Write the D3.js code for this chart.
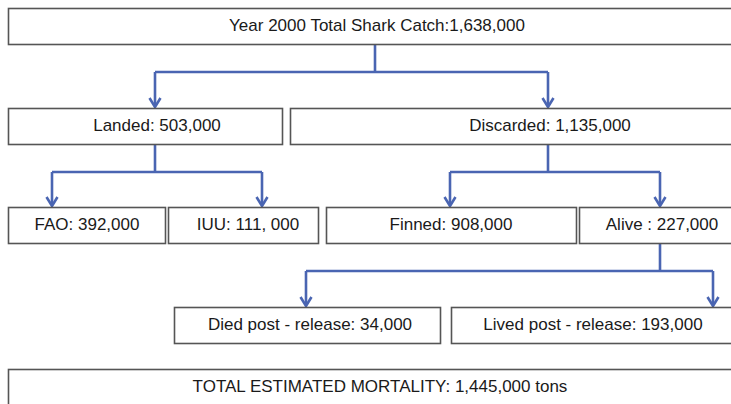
<!DOCTYPE html>
<html>
<head>
<meta charset="utf-8">
<script src="https://cdn.jsdelivr.net/npm/d3@7"></script>
<style>
  html, body { margin: 0; padding: 0; background: #fff; overflow: hidden; }
  #chartbox { width: 731px; height: 404px; }
</style>
</head>
<body>
<div id="chartbox"></div>
<script>
// flow of the year 2000 shark catch (tonnes)
var nodeLabels = [
  "Year 2000 Total Shark Catch:1,638,000",
  "Landed: 503,000",
  "Discarded: 1,135,000",
  "FAO: 392,000",
  "IUU: 111, 000",
  "Finned: 908,000",
  "Alive : 227,000",
  "Died post - release: 34,000",
  "Lived post - release: 193,000",
  "TOTAL ESTIMATED MORTALITY: 1,445,000 tons"
];
var nodeValues = [1638000, 503000, 1135000, 392000, 111000, 908000, 227000, 34000, 193000, 1445000];
var nodeParents = [-1, 0, 0, 1, 1, 2, 2, 6, 6, -1];

// layout of the boxes (kept apart from the data)
var nodeRow = [0, 1, 1, 2, 2, 2, 2, 3, 3, 4];
var boxLeft = [8, 8, 290, 8, 168, 326, 579, 174, 451, 8];
var boxRight = [745, 282, 745, 165, 318, 576, 745, 440, 745, 745];
var textX = [377, 157, 550, 87, 248, 451, 662, 310, 593, 380];
var portX = [375, 155, 548, 52, 262, 450, 660, 306, 713, 375];
var rowTop = [8, 108, 207, 307, 369];
var boxH = 36;

var nodes = nodeLabels.map(function (d, i) {
  return { label: d, value: nodeValues[i], parent: nodeParents[i], row: nodeRow[i],
           x0: boxLeft[i], x1: boxRight[i], tx: textX[i], px: portX[i] };
});

var y = d3.scaleOrdinal().domain(d3.range(rowTop.length)).range(rowTop);

var svg = d3.select('#chartbox').append('svg')
    .attr('width', 731)
    .attr('height', 404);

var lineColor = '#4a65b2';

// connectors: parent stem -> bus -> arrow into each child
var parents = d3.group(nodes.filter(d => d.parent >= 0), d => d.parent);
parents.forEach(function (kids, p) {
  var par = nodes[p];
  var top = y(par.row) + boxH;
  var bus = top + 28;
  var xs = kids.map(d => d.px);
  var g = svg.append('g')
      .attr('fill', 'none')
      .attr('stroke', lineColor)
      .attr('stroke-width', 2.6);
  g.append('path')
      .attr('d', 'M' + par.px + ',' + top + 'V' + bus);
  g.append('path')
      .attr('d', 'M' + d3.min(xs) + ',' + bus + 'H' + d3.max(xs));
  kids.forEach(function (k) {
    var tip = y(k.row) - 1;
    g.append('path')
        .attr('d', 'M' + k.px + ',' + bus + 'V' + (tip - 1));
    g.append('path')
        .attr('stroke-linejoin', 'miter')
        .attr('d', 'M' + (k.px - 5.5) + ',' + (tip - 9) + 'L' + k.px + ',' + tip + 'L' + (k.px + 5.5) + ',' + (tip - 9));
  });
});

var boxes = svg.selectAll('g.node')
    .data(nodes)
    .enter().append('g')
    .attr('class', 'node');

boxes.append('rect')
    .attr('x', d => d.x0 + 0.5)
    .attr('y', d => y(d.row) + 0.5)
    .attr('width', d => d.x1 - d.x0)
    .attr('height', boxH)
    .attr('fill', '#fff')
    .attr('stroke', '#555')
    .attr('stroke-width', 1.6);

boxes.append('text')
    .attr('x', d => d.tx)
    .attr('y', d => y(d.row) + boxH / 2 + 1)
    .attr('text-anchor', 'middle')
    .attr('dominant-baseline', 'middle')
    .style('font-family', '"Liberation Sans", Arial, sans-serif')
    .style('font-size', '17px')
    .style('fill', '#1a1a1a')
    .text(d => d.label);
</script>
</body>
</html>
